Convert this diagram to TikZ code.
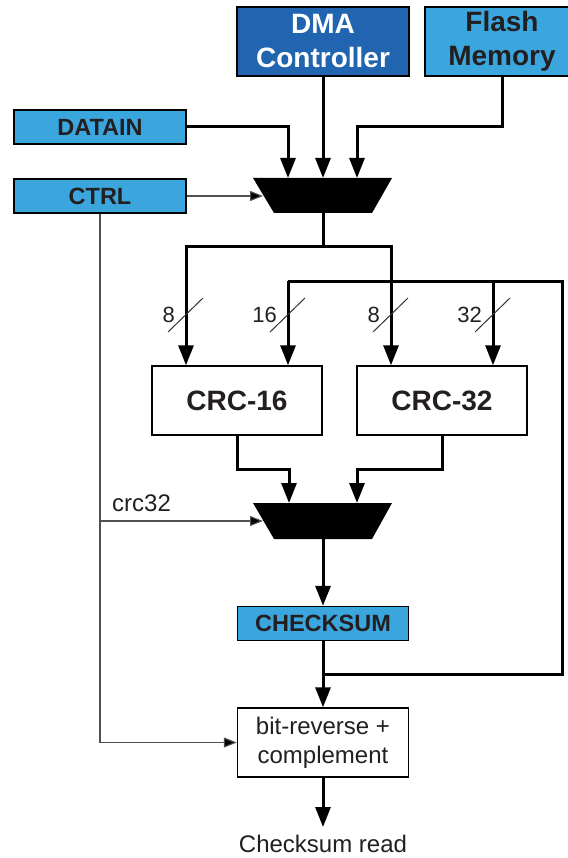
\documentclass[tikz,border=0pt]{standalone}
\usepackage{fontspec}
\setmainfont{Liberation Sans}
\usetikzlibrary{arrows.meta}
\definecolor{lblue}{RGB}{59,166,222}
\definecolor{dblue}{RGB}{33,100,176}
\definecolor{txt}{RGB}{35,31,32}
\definecolor{thin}{RGB}{80,80,80}
\begin{document}
\begin{tikzpicture}[x=1pt,y=-1pt,
  box/.style={draw=black,line width=1.4pt,inner sep=0pt,align=center,text=txt},
  lbox/.style={box,fill=lblue,minimum height=34pt,font=\fontsize{23.5}{28}\selectfont\bfseries},
  bigbox/.style={box,minimum height=69pt,font=\fontsize{28}{34}\selectfont\bfseries},
  wbox/.style={box,fill=white},
  thk/.style={line width=3pt,-{Triangle[length=20pt,width=15pt]}},
  thkline/.style={line width=3pt},
  thn/.style={line width=1.1pt,draw=thin,-{Triangle[length=13pt,width=10pt,fill=black]}},
  thnline/.style={line width=1.1pt,draw=thin},
  mux/.style={fill=black},
  slash/.style={line width=1pt,draw=black!80},
  bus/.style={font=\fontsize{22}{26}\selectfont,text=txt,anchor=east,inner sep=0pt},
  plain/.style={font=\fontsize{24}{29}\selectfont,text=txt,align=center,inner sep=0pt}]
\useasboundingbox (0,0) rectangle (567,858);

% top boxes
\node[bigbox,fill=dblue,text=white,minimum width=172pt] (dma) at (323,41.5) {DMA\\Controller};
\node[bigbox,fill=lblue,minimum width=154pt] (flash) at (502,41.5) {Flash\\Memory};
\node[lbox,minimum width=172pt] (datain) at (100,127) {DATAIN};
\node[lbox,minimum width=172pt] (ctrl) at (100,196) {CTRL};

% mux 1 coordinates
\coordinate (m1a) at (288,178);
\coordinate (m1b) at (323,178);
\coordinate (m1c) at (357,178);
\coordinate (m1ctl) at (263,196);
\coordinate (m1out) at (323,213);
\coordinate (fj) at (357,127);
\coordinate (split) at (323,247);

% CRC boxes
\node[bigbox,fill=white,minimum width=170pt] (crc16) at (237,400.5) {CRC-16};
\node[bigbox,fill=white,minimum width=170pt] (crc32) at (442,400.5) {CRC-32};

% mux 2 coordinates
\coordinate (m2a) at (289,503);
\coordinate (m2b) at (357,503);
\coordinate (m2ctl) at (263,521);
\coordinate (m2out) at (323,539);

\node[lbox,minimum width=171pt] (cks) at (323,623.5) {CHECKSUM};
\node[wbox,minimum width=171pt,minimum height=69pt,font=\fontsize{24}{29}\selectfont] (brev) at (323,742.5) {bit-reverse +\\complement};
\node[plain,anchor=base] (read) at (323,852) {Checksum read};
\coordinate (readin) at (323,827);

% feedback coordinates
\coordinate (fbj) at (323,674);
\coordinate (fbr) at (562,674);
\coordinate (fbt) at (562,281);
\coordinate (fbl) at (288,281);
\coordinate (fbm) at (493,281);

% connectors into mux 1
\draw[thk] (datain.east) -| (m1a);
\draw[thk] (dma.south) -- (m1b);
\draw[thk] (flash.south) |- (fj) -- (m1c);
\draw[thn] (ctrl.east) -- (m1ctl);

% mux1 output split
\draw[thkline] (m1out) -- (split);
\draw[thk] (split) -| (crc16.north -| 186,0);
\draw[thk] (split) -| (crc32.north -| 391,0);

% feedback
\draw[thkline] (fbj) -- (fbr) -- (fbt) -- (fbl);
\draw[thk] (fbl) -- (crc16.north -| fbl);
\draw[thk] (fbm) -- (crc32.north -| fbm);

% bus slashes
\foreach \x/\n in {186/8,288/16,391/8,493/32}{
  \draw[slash] (\x-18,332) -- (\x+17,298);
  \node[bus] at (\x-11,315) {\n};
}

% CRC outputs to mux 2
\draw[thk] (crc16.south) |- (289,469) -- (m2a);
\draw[thk] (crc32.south) |- (357,469) -- (m2b);

% ctrl lines
\draw[thn] (ctrl.south) |- (brev.west);
\draw[thn] (ctrl.south |- m2ctl) -- (m2ctl);
\node[plain,anchor=south west] (lab) at (112,512) {crc32};

% mux2 out
\draw[thk] (m2out) -- (cks.north);
\draw[thk] (cks.south) -- (brev.north);
\draw[thk] (brev.south) -- (readin);

% muxes
\fill[mux] (253,178) -- (392,178) -- (372,213) -- (274,213) -- cycle;
\fill[mux] (253,503) -- (392,503) -- (372,539) -- (274,539) -- cycle;
\end{tikzpicture}
\end{document}
